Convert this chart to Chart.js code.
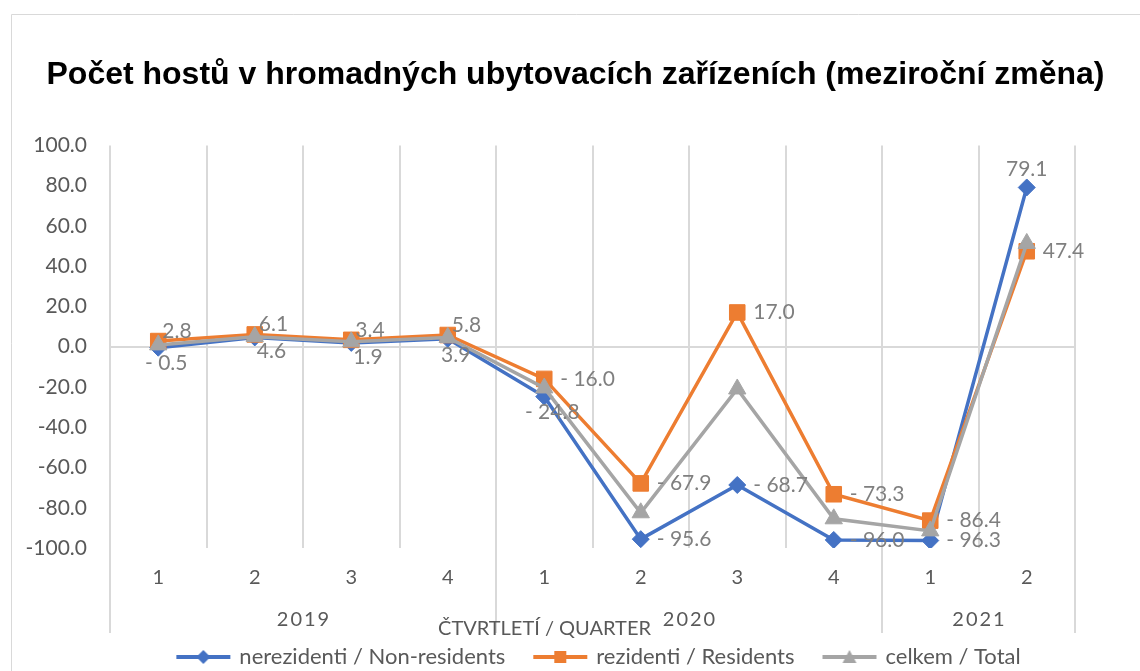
<!DOCTYPE html>
<html lang="cs">
<head>
<meta charset="utf-8">
<title>Počet hostů v hromadných ubytovacích zařízeních</title>
<script src="https://cdn.jsdelivr.net/npm/chart.js@4.4.0/dist/chart.umd.min.js"></script>
<style>
  html, body { margin: 0; padding: 0; background: #fff; }
  #wrap { width: 1140px; height: 671px; overflow: hidden; }
</style>
</head>
<body>
<div id="wrap"><canvas id="chart" width="1140" height="671"></canvas></div>
<script>
// Data (year-on-year change, %)
const quarters = ['1', '2', '3', '4', '1', '2', '3', '4', '1', '2'];
const years = ['2019', '2020', '2021'];
const quartersPerYear = [4, 4, 2];
const nonResidents = [-0.5, 4.6, 1.9, 3.9, -24.8, -95.6, -68.7, -96.0, -96.3, 79.1];
const residents = [2.8, 6.1, 3.4, 5.8, -16.0, -67.9, 17.0, -73.3, -86.4, 47.4];
const total = [0.9, 5.0, 2.4, 4.6, -20.5, -82.5, -21.0, -85.5, -91.5, 51.3];
const yMin = -100, yMax = 100, yStep = 20;

// where each data label sits relative to its point
const nonResAnchors = ['s', 'se', 'se', 's', 's', 'e', 'e', 'e', 'e', 'n'];
const resAnchors = ['ne', 'ne', 'ne', 'ne', 'e', 'e', 'e', 'e', 'e', 'e'];

const BLUE = '#4472C4', ORANGE = '#ED7D31', GRAY = '#A5A5A5';
const TEXT = '#595959', LABEL = '#7F7F7F', GRID = '#D9D9D9';
const FONT = 'Lato, "Noto Sans", sans-serif';

function fmt(v) {
  return v < 0 ? '- ' + Math.abs(v).toFixed(1) : v.toFixed(1);
}

function legendIcon(color, shape) {
  const c = document.createElement('canvas');
  c.width = 56; c.height = 16;
  const g = c.getContext('2d');
  g.strokeStyle = color; g.lineWidth = 4;
  g.beginPath(); g.moveTo(1, 8); g.lineTo(55, 8); g.stroke();
  g.fillStyle = color;
  g.beginPath();
  if (shape === 'rectRot') { g.moveTo(28, 1); g.lineTo(35, 8); g.lineTo(28, 15); g.lineTo(21, 8); }
  else if (shape === 'rect') { g.rect(22, 2, 12, 12); }
  else { g.moveTo(28, 1); g.lineTo(35, 14); g.lineTo(21, 14); }
  g.closePath(); g.fill();
  return c;
}

// chart frame, year groups and axis title below the quarter ticks
const groupsPlugin = {
  id: 'groups',
  beforeDraw(chart) {
    const ctx = chart.ctx;
    // title and legend sit a bit right of the plot-based centre in the original
    [[chart.titleBlock, 38], [chart.legend, 62]].forEach(([box, dx]) => {
      if (box && !box._shifted) { box.left += dx; box.right += dx; box._shifted = true; }
    });
    ctx.save();
    ctx.strokeStyle = GRID; ctx.lineWidth = 1;
    ctx.beginPath();
    ctx.moveTo(11.5, 700); ctx.lineTo(11.5, 14.5); ctx.lineTo(1200, 14.5);
    ctx.stroke();
    ctx.restore();
  },
  afterDraw(chart) {
    const {ctx, chartArea} = chart;
    const xs = chart.scales.x;
    const w = xs.width / quarters.length;
    const edge = i => xs.getPixelForValue(Math.min(i, quarters.length - 1)) + (i < quarters.length ? -w / 2 : w / 2);
    ctx.save();
    ctx.strokeStyle = GRID; ctx.lineWidth = 2;
    let start = 0;
    const bounds = [0];
    quartersPerYear.forEach(n => { start += n; bounds.push(start); });
    bounds.forEach(b => {
      const x = Math.round(edge(b));
      ctx.beginPath(); ctx.moveTo(x, chartArea.bottom); ctx.lineTo(x, 633); ctx.stroke();
    });
    ctx.fillStyle = TEXT;
    ctx.font = '20px ' + FONT;
    ctx.textAlign = 'center'; ctx.textBaseline = 'middle';
    ctx.letterSpacing = '2px';
    years.forEach((y, i) => {
      const mid = (edge(bounds[i]) + edge(bounds[i + 1])) / 2;
      ctx.fillText(y, mid + 1, 620);
    });
    ctx.letterSpacing = '0px';
    ctx.fillText('ČTVRTLETÍ / QUARTER', (chartArea.left + chartArea.right) / 2 - 48, 629);
    ctx.restore();
  }
};

// value labels for non-residents and residents
const labelsPlugin = {
  id: 'valueLabels',
  afterDatasetsDraw(chart) {
    const ctx = chart.ctx;
    ctx.save();
    ctx.font = '21px ' + FONT;
    ctx.fillStyle = LABEL;
    ctx.textBaseline = 'middle';
    chart.data.datasets.forEach((ds, di) => {
      if (!ds.anchors) return;
      chart.getDatasetMeta(di).data.forEach((pt, i) => {
        const a = ds.anchors[i];
        let x = pt.x, y = pt.y, align = 'left';
        if (a === 'e') { x += 16; }
        else if (a === 'ne') { x += 4; y -= 10; }
        else if (a === 'se') { x += 2; y += 14; }
        else if (a === 's') { x += 8; y += 16; align = 'center'; }
        else if (a === 'n') { y -= 18; align = 'center'; }
        ctx.textAlign = align;
        ctx.fillText(fmt(ds.data[i]), x, y);
      });
    });
    ctx.restore();
  }
};

const ctx = document.getElementById('chart').getContext('2d');
new Chart(ctx, {
  type: 'line',
  data: {
    labels: quarters,
    datasets: [
      {
        label: 'nerezidenti / Non-residents',
        data: nonResidents,
        anchors: nonResAnchors,
        borderColor: BLUE, backgroundColor: BLUE,
        pointStyle: 'rectRot', pointRadius: 8.5,
        icon: legendIcon(BLUE, 'rectRot'),
        order: 3
      },
      {
        label: 'rezidenti / Residents',
        data: residents,
        anchors: resAnchors,
        borderColor: ORANGE, backgroundColor: ORANGE,
        pointStyle: 'rect', pointRadius: 11,
        icon: legendIcon(ORANGE, 'rect'),
        order: 2
      },
      {
        label: 'celkem / Total',
        data: total,
        borderColor: GRAY, backgroundColor: GRAY,
        pointStyle: 'triangle', pointRadius: 10,
        icon: legendIcon(GRAY, 'triangle'),
        order: 1
      }
    ]
  },
  options: {
    responsive: false,
    animation: false,
    events: [],
    layout: { padding: { top: 0, left: 0, right: 65, bottom: -7 } },
    elements: {
      line: { borderWidth: 3.5, tension: 0 },
      point: { borderWidth: 1 }
    },
    plugins: {
      title: {
        display: true,
        text: 'Počet hostů v hromadných ubytovacích zařízeních (meziroční změna)',
        color: '#000',
        font: { family: '"Liberation Sans", Arial, sans-serif', size: 32, weight: 'bold' },
        padding: { top: 56, bottom: 51 }
      },
      legend: {
        position: 'bottom',
        labels: {
          usePointStyle: true,
          pointStyleWidth: 50,
          padding: 30,
          color: TEXT,
          font: { family: FONT, size: 22 },
          generateLabels(chart) {
            return chart.data.datasets.map((ds, i) => ({
              text: ds.label,
              pointStyle: ds.icon,
              fillStyle: ds.borderColor,
              strokeStyle: ds.borderColor,
              lineWidth: 0,
              fontColor: TEXT,
              hidden: false,
              datasetIndex: i
            }));
          }
        }
      },
      tooltip: { enabled: false }
    },
    scales: {
      x: {
        offset: true,
        grid: { offset: true, color: GRID, lineWidth: 2, drawTicks: false },
        border: { display: false },
        ticks: { color: TEXT, font: { family: FONT, size: 20 }, padding: 18, maxRotation: 0 },
        afterFit(scale) { scale.height = 68; }
      },
      y: {
        min: yMin, max: yMax,
        grid: {
          drawTicks: false,
          lineWidth: 2,
          color: c => (c.tick && c.tick.value === 0 ? GRID : 'rgba(0,0,0,0)')
        },
        border: { display: false },
        ticks: {
          stepSize: yStep,
          color: TEXT,
          font: { family: FONT, size: 21 },
          padding: 23,
          callback: v => v.toFixed(1)
        },
        afterFit(scale) { scale.width = 110; }
      }
    }
  },
  plugins: [groupsPlugin, labelsPlugin]
});
</script>
</body>
</html>
